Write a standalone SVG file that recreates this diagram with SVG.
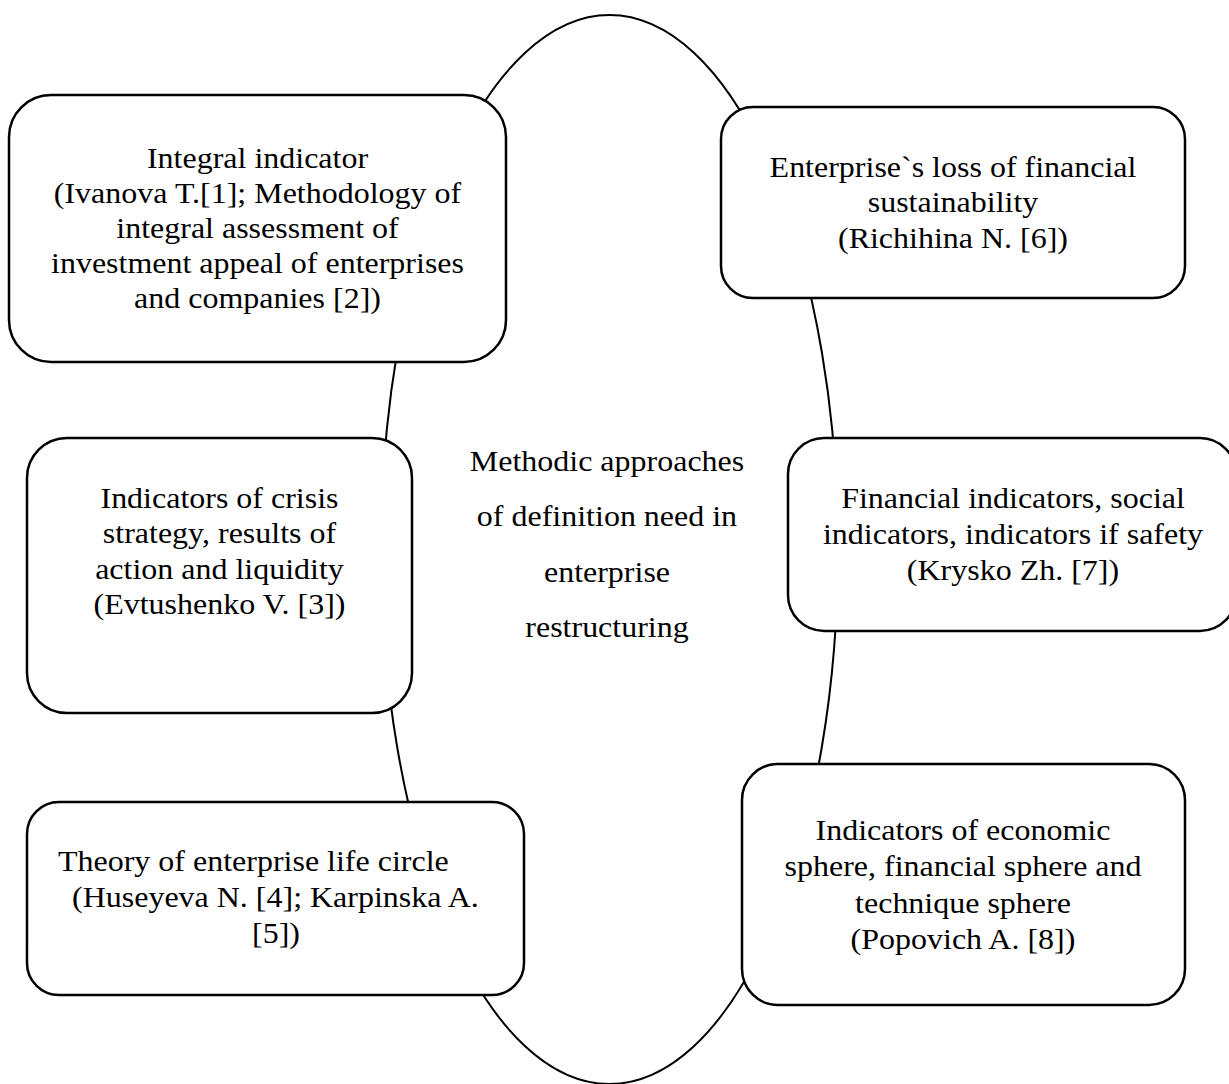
<svg xmlns="http://www.w3.org/2000/svg" width="1229" height="1084" viewBox="0 0 1229 1084">
<style>
.box{fill:#fff;stroke:#000;stroke-width:2.5}
.ring{fill:none;stroke:#000;stroke-width:2}
.t{font-family:"Liberation Serif","Times New Roman",serif;font-size:30px;fill:#000;text-anchor:middle}
.s{text-anchor:start}
</style>
<rect width="1229" height="1084" fill="#fff"/>
<g id="connectors">
<ellipse class="ring" cx="609.5" cy="549.5" rx="228.5" ry="534.5"/>
</g>
<g id="center">
<text class="t" transform="translate(607 0) scale(1.0667 1)"><tspan x="0" y="471">Methodic approaches</tspan><tspan x="0" y="526.5">of definition need in</tspan><tspan x="0" y="582">enterprise</tspan><tspan x="0" y="637">restructuring</tspan></text>
</g>
<g id="node1">
<rect class="box" x="9" y="95" width="497" height="267" rx="42"/>
<text class="t" transform="translate(257.5 0) scale(1.0667 1)"><tspan x="0" y="168">Integral indicator</tspan><tspan x="0" y="203">(Ivanova T.[1]; Methodology of</tspan><tspan x="0" y="238">integral assessment of</tspan><tspan x="0" y="273">investment appeal of enterprises</tspan><tspan x="0" y="308">and companies [2])</tspan></text>
</g>
<g id="node2">
<rect class="box" x="721" y="107" width="464" height="191" rx="32"/>
<text class="t" transform="translate(953 0) scale(1.0667 1)"><tspan x="0" y="177">Enterprise`s loss of financial</tspan><tspan x="0" y="212.5">sustainability</tspan><tspan x="0" y="248">(Richihina N. [6])</tspan></text>
</g>
<g id="node3">
<rect class="box" x="27" y="438" width="385" height="275" rx="40"/>
<text class="t" transform="translate(219.5 0) scale(1.0667 1)"><tspan x="0" y="508">Indicators of crisis</tspan><tspan x="0" y="543.5">strategy, results of</tspan><tspan x="0" y="579">action and liquidity</tspan><tspan x="0" y="614.5">(Evtushenko V. [3])</tspan></text>
</g>
<g id="node4">
<rect class="box" x="788" y="438" width="448" height="193" rx="36"/>
<text class="t" transform="translate(1013 0) scale(1.0667 1)"><tspan x="0" y="508">Financial indicators, social</tspan><tspan x="0" y="544">indicators, indicators if safety</tspan><tspan x="0" y="580">(Krysko Zh. [7])</tspan></text>
</g>
<g id="node5">
<rect class="box" x="27" y="802" width="497" height="193" rx="32"/>
<text class="t s" transform="translate(58 871) scale(1.0667 1)">Theory of enterprise life circle</text>
<text class="t s" transform="translate(72 907) scale(1.0667 1)">(Huseyeva N. [4]; Karpinska A.</text>
<text class="t s" transform="translate(252 943) scale(1.0667 1)">[5])</text>
</g>
<g id="node6">
<rect class="box" x="742" y="764" width="443" height="241" rx="36"/>
<text class="t" transform="translate(963 0) scale(1.0667 1)"><tspan x="0" y="840">Indicators of economic</tspan><tspan x="0" y="876.5">sphere, financial sphere and</tspan><tspan x="0" y="913">technique sphere</tspan><tspan x="0" y="949">(Popovich A. [8])</tspan></text>
</g>
</svg>
